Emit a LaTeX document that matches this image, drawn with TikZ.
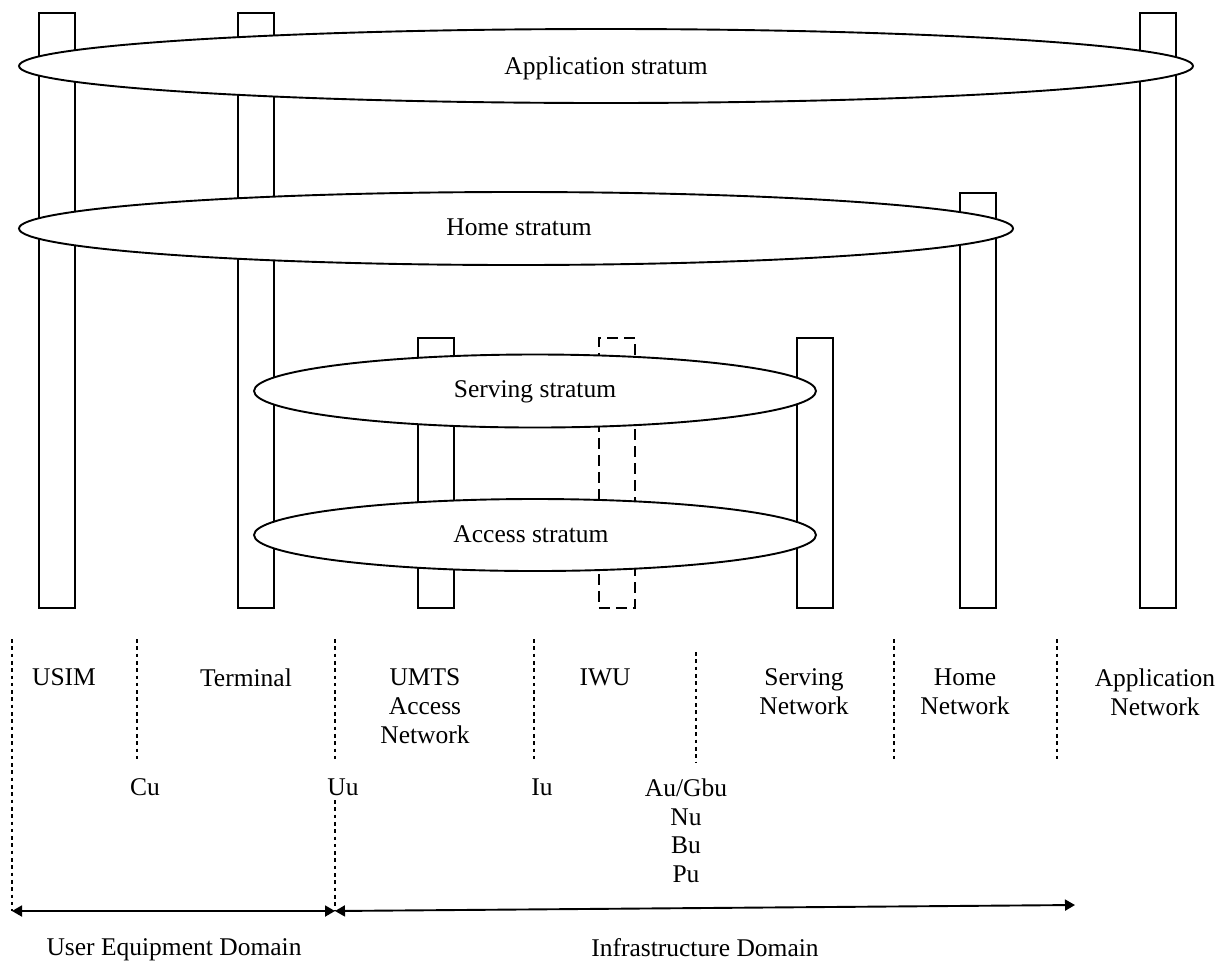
\documentclass[tikz,border=0pt]{standalone}
\usepackage{fontspec}
\setmainfont{Liberation Serif}
\usetikzlibrary{shapes.geometric,arrows.meta}
\begin{document}
\begin{tikzpicture}[x=1pt,y=-1pt,
  line width=1.9pt,
  txt/.style={font=\fontsize{25.5}{29}\selectfont, inner sep=0pt},
  bar/.style={draw=black, fill=white, inner sep=0pt, minimum width=36pt, anchor=north west},
  ivbar/.style={bar, fill=none, dash pattern=on 11pt off 6pt},
  stratum/.style={ellipse, draw=black, fill=white, inner sep=0pt},
  lbl/.style={txt, align=center, anchor=north},
  sep/.style={line width=2pt, dash pattern=on 3.6pt off 3.7pt},
  dom/.style={{Triangle[length=10pt,width=11pt]}-{Triangle[length=10pt,width=11pt]}}
]
\useasboundingbox (0,0) rectangle (1230,962);

% domain pillars
\node[bar, minimum height=595pt] (usimB) at (38,12) {};
\node[bar, minimum height=595pt] (termB) at (237,12) {};
\node[bar, minimum height=595pt] (appB)  at (1139,12) {};
\node[bar, minimum height=415pt] (homeB) at (959,192) {};
\node[bar, minimum height=270pt] (umtsB) at (417,337) {};
\node[ivbar, minimum height=270pt] (iwuB) at (598,337) {};
\node[bar, minimum height=270pt] (servB) at (796,337) {};

% strata
\node[stratum, minimum width=1174pt, minimum height=74pt] (appS)  at (606,66) {};
\node[stratum, minimum width=994pt,  minimum height=73pt] (homeS) at (516,228.5) {};
\node[stratum, minimum width=562pt,  minimum height=73pt] (servS) at (535,391) {};
\node[stratum, minimum width=562pt,  minimum height=72pt] (accS)  at (535,535) {};

\node[txt, anchor=base] (appT)  at (606,74.5) {Application stratum};
\node[txt, anchor=base] (homeT) at (519,235) {Home stratum};
\node[txt, anchor=base] (servT) at (535,397) {Serving stratum};
\node[txt, anchor=base] (accT)  at (531,542) {Access stratum};

% reference point separators
\coordinate (uedW) at (12,911);
\coordinate (uedE) at (335,911);
\coordinate (infE) at (1075,905);
\coordinate (s1) at (12,639);
\coordinate (s2t) at (137,639);   \coordinate (s2b) at (137,763);
\coordinate (s3t) at (335,639);   \coordinate (s3b) at (335,763);
\coordinate (s3c) at (335,800);
\coordinate (s4t) at (534,639);   \coordinate (s4b) at (534,763);
\coordinate (s5t) at (696,652);   \coordinate (s5b) at (696,763);
\coordinate (s6t) at (894,639);   \coordinate (s6b) at (894,763);
\coordinate (s7t) at (1057,639);  \coordinate (s7b) at (1057,763);

\draw[sep] (s1) -- (uedW);
\draw[sep] (s2t) -- (s2b);
\draw[sep] (s3t) -- (s3b);
\draw[sep] (s3c) -- (uedE);
\draw[sep] (s4t) -- (s4b);
\draw[sep] (s5t) -- (s5b);
\draw[sep] (s6t) -- (s6b);
\draw[sep] (s7t) -- (s7b);

% domain names
\node[lbl] (usimL) at (64,668)   {USIM};
\node[lbl] (termL) at (246,668)  {Terminal};
\node[lbl] (umtsL) at (425,668)  {UMTS\\Access\\Network};
\node[lbl] (iwuL)  at (605,668)  {IWU};
\node[lbl] (servL) at (804,668)  {Serving\\Network};
\node[lbl] (homeL) at (965,668)  {Home\\Network};
\node[lbl] (appL)  at (1155,668) {Application\\Network};

% interfaces
\node[lbl] (cuL) at (145,778) {Cu};
\node[lbl] (uuL) at (343,778) {Uu};
\node[lbl] (iuL) at (542,778) {Iu};
\node[lbl, font=\fontsize{25.5}{28.5}\selectfont] (auL) at (686,778) {Au/Gbu\\Nu\\Bu\\Pu};

% equipment / infrastructure split
\draw[dom] (uedW) -- (uedE);
\draw[dom] (uedE) -- (infE);
\node[lbl] (uedL) at (174,938) {User Equipment Domain};
\node[lbl] (infL) at (705,938) {Infrastructure Domain};
\end{tikzpicture}
\end{document}
